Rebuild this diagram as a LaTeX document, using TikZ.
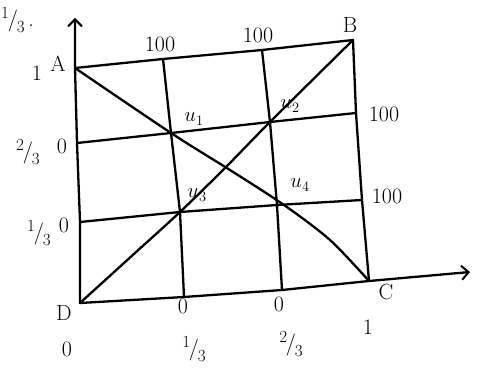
\documentclass[tikz,border=0pt]{standalone}
\usetikzlibrary{arrows.meta}
\newcommand{\hfr}[2]{\raisebox{0.35em}{\fontsize{17}{17}\selectfont #1}\kern-0.05em/\kern-0.05em\raisebox{-0.3em}{\fontsize{17}{17}\selectfont #2}}
\begin{document}
\begin{tikzpicture}[x=1pt,y=-1pt,
  ln/.style={line width=2.3pt,line cap=round,line join=round},
  lab/.style={font=\fontsize{22}{22}\selectfont,inner sep=0pt},
  ax/.style={ln,-{Straight Barb[length=7pt,width=14pt,line width=2pt]}}]
\useasboundingbox (0,0) rectangle (493,371);
% corners and grid points
\coordinate (A) at (75,68);
\coordinate (B) at (353,40);
\coordinate (C) at (369,281);
\coordinate (D) at (80,303);
\coordinate (T1) at (163,59);
\coordinate (T2) at (262,50);
\coordinate (Bt1) at (184,297);
\coordinate (Bt2) at (282,290);
\coordinate (L2) at (77,143);
\coordinate (L1) at (80,222);
\coordinate (R2) at (356,113);
\coordinate (R1) at (362,200);
\coordinate (u1) at (171,133);
\coordinate (u2) at (270,122);
\coordinate (u3) at (180,212);
\coordinate (u4) at (277,205);
\coordinate (Xe) at (470,272);
\coordinate (Ye) at (75,18);
% axes
\draw[ax] (D) -- (L1) -- (L2) -- (A) -- (Ye);
\draw[ax] (D) -- (Bt1) -- (Bt2) -- (C) -- (Xe);
% square sides
\draw[ln] (A) -- (T1) -- (T2) -- (B) -- (R2) -- (R1) -- (C);
% grid
\draw[ln] (T1) -- (u1) -- (u3) -- (Bt1);
\draw[ln] (T2) -- (u2) -- (u4) -- (Bt2);
\draw[ln] (L2) -- (u1) -- (u2) -- (R2);
\draw[ln] (L1) -- (u3) -- (u4) -- (R1);
% diagonals
\draw[ln] plot[smooth,tension=0.5] coordinates {(A) (u1) (230,170) (284,205) (330,240) (C)};
\draw[ln] plot[smooth,tension=0.5] coordinates {(D) (135,253) (u3) (225,168) (u2) (B)};
% labels
\node[lab] (lA) at (58,64) {A};
\node[lab] (l1A) at (37,73) {1};
\node[lab] (lB) at (350,25) {B};
\node[lab] (lC) at (386,292) {C};
\node[lab] (lD) at (64,313) {D};
\node[lab] (t100a) at (160,44) {100};
\node[lab] (t100b) at (258,35) {100};
\node[lab] (r100a) at (384,114) {100};
\node[lab] (r100b) at (387,196) {100};
\node[lab] (lu1) at (194,119) {$u_1$};
\node[lab] (lu2) at (290,106) {$u_2$};
\node[lab] (lu3) at (197,195) {$u_3$};
\node[lab] (lu4) at (300,185) {$u_4$};
\node[lab] (lf2) at (28,152) {\hfr{2}{3}};
\node[lab] (lz2) at (62,146) {0};
\node[lab] (lf1) at (39,233) {\hfr{1}{3}};
\node[lab] (lz1) at (64,225) {0};
\node[lab] (bz1) at (183,306) {0};
\node[lab] (bz2) at (279,304) {0};
\node[lab] (bz0) at (67,349) {0};
\node[lab] (bf1) at (194,349) {\hfr{1}{3}};
\node[lab] (bf2) at (291,344) {\hfr{2}{3}};
\node[lab] (b1) at (368,327) {1};
\node[lab,anchor=west] (tl) at (1,20) {\hfr{1}{3}\,.};
\end{tikzpicture}
\end{document}
